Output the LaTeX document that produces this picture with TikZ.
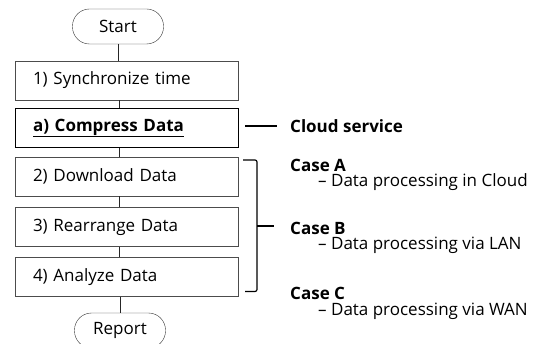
\documentclass[tikz,border=0pt]{standalone}
\usepackage{fontspec}
\setmainfont{Open Sans}
\usetikzlibrary{positioning}

\tikzset{
    stepbox/.style={draw=black!70, rectangle, minimum width=223pt, minimum height=39pt,
        text width=187pt, inner xsep=18pt, align=left, font=\fontsize{17}{19}\selectfont},
    endbox/.style={draw=black!80, rectangle, rounded corners=17pt, minimum width=91pt,
        minimum height=35pt, font=\fontsize{17}{19}\selectfont},
    conn/.style={draw=black!85, line width=0.8pt},
    casetxt/.style={anchor=west, inner sep=0pt, font=\fontsize{17}{19}\selectfont}
}

\begin{document}
\begin{tikzpicture}[x=1pt, y=-1pt]
    \useasboundingbox (0,0) rectangle (535,344);
    % flow
    \node[endbox] (start) at (118,26.5) {Start};
    \node[stepbox] (sync) at (126.5,80.5) {1) Synchronize time};
    \node[stepbox, draw=black, line width=0.8pt] (comp) at (126.5,128) {\textbf{\underline{a) Compress Data}}};
    \node[stepbox] (down) at (126.5,176.5) {2) Download Data};
    \node[stepbox] (rear) at (126.5,227) {3) Rearrange Data};
    \node[stepbox] (anal) at (126.5,277) {4) Analyze Data};
    \node[endbox] (report) at (120,330.5) {Report};

    \draw[conn] (start.south) -- (start.south |- sync.north);
    \draw[conn] (119,0 |- sync.south) -- (119,0 |- comp.north);
    \draw[conn] (119,0 |- comp.south) -- (119,0 |- down.north);
    \draw[conn] (119,0 |- down.south) -- (119,0 |- rear.north);
    \draw[conn] (119,0 |- rear.south) -- (119,0 |- anal.north);
    \draw[conn] (report.north |- anal.south) -- (report.north);

    % right side
    \node[casetxt] (cloud) at (290,126) {\textbf{Cloud service}};
    \draw[line width=2pt] (245,126) -- (277,126);

    \coordinate (bt) at (243,160);
    \coordinate (bb) at (245,291.5);
    \draw[line width=1.2pt, rounded corners=2pt] (bt) -- (257,160) -- (257,291.5) -- (bb);
    \draw[line width=1.2pt] (257,226) -- (274,226);

    \node[casetxt] (casea) at (290,165) {\textbf{Case A}};
    \node[casetxt] (texta) at (318,182) {\textendash\ Data processing in Cloud};
    \node[casetxt] (caseb) at (290,228) {\textbf{Case B}};
    \node[casetxt] (textb) at (318,245) {\textendash\ Data processing via LAN};
    \node[casetxt] (casec) at (290,293) {\textbf{Case C}};
    \node[casetxt] (textc) at (318,311) {\textendash\ Data processing via WAN};
\end{tikzpicture}
\end{document}
